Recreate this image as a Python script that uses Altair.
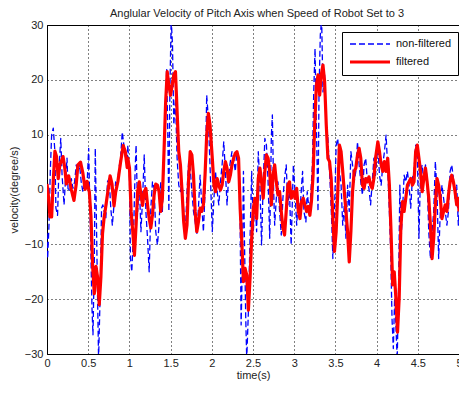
import altair as alt
import pandas as pd

# ---- data ----
title_text = "Anglular Velocity of Pitch Axis when Speed of Robot Set to 3"

t_filtered = [
    0.000, 0.016, 0.036, 0.056, 0.076, 0.096, 0.116, 0.136, 0.156, 0.195,
    0.215, 0.235, 0.263, 0.295, 0.327, 0.355, 0.375, 0.407, 0.435, 0.463,
    0.486, 0.514, 0.534, 0.554, 0.574, 0.594, 0.614, 0.634, 0.654, 0.674,
    0.694, 0.714, 0.742, 0.766, 0.789, 0.813, 0.833, 0.861, 0.893, 0.925,
    0.949, 0.973,
    0.981, 1.001, 1.021, 1.041, 1.061, 1.081, 1.100, 1.120, 1.140, 1.160,
    1.180, 1.200, 1.220, 1.240, 1.260, 1.280, 1.300, 1.320, 1.340, 1.360,
    1.380, 1.400, 1.420, 1.440, 1.459, 1.479, 1.499, 1.519, 1.539, 1.559,
    1.579, 1.599, 1.619, 1.639, 1.659, 1.679, 1.699, 1.719, 1.738, 1.758,
    1.778, 1.798, 1.818, 1.838, 1.858, 1.878, 1.898, 1.918, 1.938, 1.958,
    1.978,
    2.006, 2.026, 2.045, 2.065, 2.085, 2.105, 2.125, 2.145, 2.165, 2.185,
    2.205, 2.225, 2.245, 2.265, 2.285, 2.305, 2.325, 2.344, 2.364, 2.384,
    2.404, 2.424, 2.444, 2.464, 2.484, 2.504, 2.524, 2.544, 2.564, 2.584,
    2.604, 2.624, 2.644, 2.663, 2.683, 2.703, 2.723, 2.743, 2.763, 2.783,
    2.803, 2.823, 2.843, 2.863, 2.883, 2.903, 2.923, 2.943, 2.963,
    2.990, 3.010, 3.030, 3.050, 3.070, 3.090, 3.110, 3.130, 3.150, 3.170,
    3.190, 3.209, 3.229, 3.249, 3.269, 3.289, 3.309, 3.329, 3.349, 3.369,
    3.389, 3.409, 3.429, 3.449, 3.469, 3.489, 3.509, 3.529, 3.549, 3.569,
    3.589, 3.608, 3.628, 3.648, 3.668, 3.688, 3.708, 3.728, 3.748, 3.768,
    3.788, 3.808, 3.828, 3.848, 3.868, 3.888, 3.907, 3.927, 3.947, 3.967,
    3.987,
    4.015, 4.035, 4.055, 4.075, 4.095, 4.115, 4.135, 4.155, 4.175, 4.195,
    4.214, 4.234, 4.254, 4.274, 4.294, 4.314, 4.334, 4.354, 4.374, 4.394,
    4.414, 4.434, 4.454, 4.474, 4.494, 4.514, 4.533, 4.553, 4.573, 4.593,
    4.613, 4.633, 4.653, 4.673, 4.693, 4.713, 4.733, 4.753, 4.773, 4.793,
    4.813, 4.833, 4.853, 4.872, 4.892, 4.912, 4.932, 4.952, 4.972, 4.992,
    5.000,
]
v_filtered = [
    1, -1, -5, -5, 1.5, 7, 6, 2, 4.5, 6,
    4, 1, 2.5, 0, -2, 1, 4.5, 5, 3, 0,
    1.5, -0.5, -5, -14, -19, -14, -16, -21, -16, -8,
    -5, -3, 0, 2.5, 1, -3, -0.5, 1.5, 5, 8,
    7, 4,
    5.7, 3.9, -4, -7.7, -12, -6.5, -0.4, 1.4, -1, -2.9,
    -0.4, 0.2, -2.8, -5.3, -7, -4.6, -1, 1, 0.8, -0.4,
    -4, -1.6, 6.9, 16, 21.5, 19, 17.2, 19, 20.9, 21.5,
    14.2, 6.9, 4.5, -0.4, -5.9, -8.9, -6.5, 2, 6.9, 6.3,
    2.6, -4, -7.7, -5.9, -3.4, -4, -2.8, 2.6, 9.9, 13.9,
    11.8,
    5.7, 0.8, -0.4, 2, 0.8, -0.1, 0.8, 3.3, 5.1, 3.9,
    1.4, 2.6, 4.5, 5.7, 6.6, 6.9, 5.7, -3.4, -9.5, -16.8,
    -14.4, -15.6, -22, -16.2, -8.9, -3.4, -1.6, -5.3, 2, 3.9,
    1.4, -1.6, 3.3, 6.3, 5.7, 3.3, -2.8, 2.6, 4.5, 1.4,
    -1, -0.4, -4, -7, -8.3, -4, 0.8, 1.4, -1.6,
    -0.4, -1.6, 0.2, -4, -5.3, -2.2, -1.6, -2.8, -4, -3.1,
    -4.7, -2.2, 2.6, 11.8, 19, 20.9, 17.2, 20.9, 22.7, 19.7,
    11.8, 5.7, 5.1, 2, -5.3, -11.3, -7.7, -0.4, 8.1, 6.9,
    3.3, -0.4, -4, -7.7, -13.2, -7.7, -0.4, 3.3, 3.9, 6.3,
    7.5, 5.7, 0.8, 0.2, 2, 1.4, 2.3, 0.8, 0.2, 2,
    5.7,
    8.7, 6.9, 4.5, 3.3, 5.1, 3.3, 5.7, 0.8, -7.7, -17.4,
    -15, -19.8, -26, -19.8, -7.1, -2.2, -4, -1.6, 0.8, 1.4,
    2, 0.8, 1.4, 6.9, 8.1, 5.7, 3.3, -0.4, 2, 3.9,
    1.4, -1.6, -6.5, -12.6, -8.9, -2.8, 2, 0.8, -1.6, -5.3,
    -4, -2.8, -4, -1, 1.4, 2.6, 1.4, -0.4, -2.8, -1.6,
    -4,
]

t_raw = [
    0.000, 0.008, 0.024, 0.040, 0.056, 0.076, 0.096, 0.108, 0.128, 0.144,
    0.167, 0.183, 0.207, 0.223, 0.243, 0.255, 0.275, 0.295, 0.315, 0.335,
    0.355, 0.375, 0.395, 0.415, 0.435, 0.463, 0.486, 0.506, 0.518, 0.534,
    0.546, 0.558, 0.574, 0.586, 0.598, 0.614, 0.626, 0.646, 0.662, 0.678,
    0.694, 0.714, 0.734, 0.754, 0.774, 0.793, 0.813, 0.833, 0.853, 0.873,
    0.893, 0.913, 0.933, 0.953, 0.973,
    0.981, 1.001, 1.013, 1.029, 1.053, 1.069, 1.081, 1.100, 1.120, 1.140,
    1.160, 1.180, 1.200, 1.220, 1.240, 1.260, 1.280, 1.300, 1.320, 1.340,
    1.360, 1.380, 1.400, 1.420, 1.440, 1.452, 1.467, 1.479, 1.491, 1.507,
    1.523, 1.539, 1.559, 1.579, 1.599, 1.619, 1.639, 1.659, 1.679, 1.699,
    1.719, 1.738, 1.758, 1.778, 1.798, 1.818, 1.838, 1.858, 1.878, 1.898,
    1.918, 1.938, 1.958, 1.978,
    2.006, 2.026, 2.045, 2.065, 2.085, 2.105, 2.125, 2.145, 2.165, 2.185,
    2.205, 2.225, 2.245, 2.265, 2.285, 2.305, 2.325, 2.344, 2.356, 2.372,
    2.384, 2.396, 2.412, 2.424, 2.444, 2.464, 2.484, 2.504, 2.524, 2.544,
    2.564, 2.584, 2.604, 2.624, 2.644, 2.663, 2.683, 2.703, 2.723, 2.735,
    2.751, 2.763, 2.783, 2.803, 2.823, 2.843, 2.863, 2.883, 2.903, 2.923,
    2.943, 2.963,
    2.990, 3.010, 3.030, 3.050, 3.070, 3.090, 3.102, 3.118, 3.142, 3.158,
    3.182, 3.198, 3.221, 3.237, 3.253, 3.269, 3.289, 3.301, 3.317, 3.333,
    3.349, 3.369, 3.389, 3.409, 3.421, 3.437, 3.457, 3.469, 3.489, 3.509,
    3.529, 3.549, 3.569, 3.589, 3.608, 3.628, 3.648, 3.668, 3.688, 3.708,
    3.728, 3.748, 3.768, 3.788, 3.808, 3.828, 3.848, 3.868, 3.888, 3.907,
    3.927, 3.947, 3.967, 3.987,
    4.015, 4.035, 4.055, 4.075, 4.095, 4.115, 4.135, 4.155, 4.171, 4.187,
    4.203, 4.219, 4.234, 4.250, 4.266, 4.282, 4.298, 4.314, 4.334, 4.354,
    4.374, 4.394, 4.414, 4.434, 4.454, 4.474, 4.494, 4.514, 4.533, 4.553,
    4.573, 4.593, 4.613, 4.633, 4.653, 4.673, 4.693, 4.713, 4.733, 4.753,
    4.773, 4.793, 4.813, 4.833, 4.853, 4.872, 4.892, 4.912, 4.932, 4.952,
    4.972, 4.992, 5.000,
]
v_raw = [
    -8, -12.6, -6.5, 3.3, 9.9, 11.2, 6.9, -3.4, -4.7, 3.3,
    9.3, 2.6, -2.8, 1.4, 5.7, 0.2, -0.4, 2, 0.2, 1.4,
    4.5, 3.3, 4.5, 1.4, -0.4, 1.4, 0.8, 7.5, -1.6, -12.6,
    -21.7, -26.5, -13.2, 7.5, -4, -19.8, -31, -18.6, -3.4, -2.8,
    -4, -5.3, 1.4, 2, -3.4, -6.5, -2.8, 1.4, 0.8, 3.9,
    5.7, 10.5, 8.1, 5.7, 4.5,
    8.1, 2, -12.6, -15, -6.5, 3.3, 8.1, -4, 1.4, -7.7,
    -1.6, 6.3, -4, -8.9, -15, -3.4, 1.4, 0.2, -7.7, -10.1,
    -6.5, 1.4, -4, 5.7, 14.8, 22.1, 9.3, -4, 17.8, 31,
    26.4, 11.8, 16.6, 5.7, 0.8, -0.4, 1.4, -4, -7.7, -0.4,
    5.1, 3.9, -0.4, -4, -5.9, -8.3, -3.4, 2.6, -2.8, -7.7,
    -0.4, 17.2, 13, 4.5,
    -7.7, -1.6, 3.3, -0.4, -2.8, 1.4, 4.5, 8.7, 3.3, -2.8,
    2.6, 5.1, 6.9, 5.7, 3.3, 6.9, 5.7, -6.5, -24.7, -12.6,
    3.3, -8.9, -23.5, -31, -22.3, -8.9, 3.3, -7.7, -1.6, -7.7,
    6.9, 0.8, -10.1, 1.4, 9.3, 8.1, 1.4, -8.9, 9.9, 13.6,
    -0.4, -6.5, -1.6, 1.4, -4, -8.3, -1.6, 2, 4.5, -2.8,
    -0.4, -10.1,
    4.5, -0.4, -6.5, -1.6, -4, 0.8, 3.3, -4, -5.9, -0.4,
    -4, -1.6, 4.5, 17.8, 25.7, 11.8, -4, 17.8, 28.2, 31,
    17.8, 20.9, 11.8, 9.3, 5.7, 0.8, -6.5, -12.6, -4, 8.1,
    9.3, 3.3, 0.8, -6.5, -2.8, -8.9, 0.8, -4, 6.9, 4.5,
    1.4, 3.3, 8.7, 4.5, 1.4, -1, 4.5, 5.7, 1.4, 0.2,
    -2.8, 1.4, 5.7, 2.6,
    8.1, 2.6, 0.8, 4.5, 6.9, 9.9, 3.9, -4, -11.3, -23.5,
    -29, -19.8, -24.7, -31, -18.6, 0.8, -8.9, -4, 2.6, 1.4,
    3.3, 0.8, -3.4, 2, 3.3, 8.1, 6.9, -8.9, 3.3, 4.5,
    1.4, 4.5, 2, -7.7, -12.6, -7.7, -4, 5.1, -0.4, -12.6,
    -4, 0.8, -1.6, -4, -6.5, -4, 3.3, 4.5, 2, -1.6,
    0.8, -6.5, -4,
]

series_names = ["non-filtered", "filtered"]
series_colors = ["#0000ff", "#ff0000"]
x_ticks = [0, 0.5, 1, 1.5, 2, 2.5, 3, 3.5, 4, 4.5, 5]
y_ticks = [-30, -20, -10, 0, 10, 20, 30]

df = pd.concat([
    pd.DataFrame({"t": t_raw, "v": v_raw, "series": "non-filtered", "k": 0}),
    pd.DataFrame({"t": t_filtered, "v": v_filtered, "series": "filtered", "k": 1}),
], ignore_index=True)

FONT = "Liberation Sans"
W, H = 412, 329

base = alt.Chart(df).mark_line(clip=True, strokeJoin="round").encode(
    x=alt.X("t:Q", title="time(s)",
            scale=alt.Scale(domain=[0, 5], nice=False, zero=False),
            axis=alt.Axis(values=x_ticks, format="~g", labelFlush=False,
                          labelOverlap=False, labelBound=False,
                          titlePadding=1, labelPadding=3)),
    y=alt.Y("v:Q", title="velocity(degree/s)",
            scale=alt.Scale(domain=[-30, 30], nice=False),
            axis=alt.Axis(values=y_ticks, labelPadding=4, titlePadding=5)),
    color=alt.Color("series:N",
                    scale=alt.Scale(domain=series_names, range=series_colors),
                    legend=alt.Legend(title=None)),
    strokeDash=alt.StrokeDash("series:N",
                              scale=alt.Scale(domain=series_names, range=[[6, 3], [1, 0]]),
                              legend=alt.Legend(title=None)),
    strokeWidth=alt.StrokeWidth("series:N",
                                scale=alt.Scale(domain=series_names, range=[1.3, 3.2]),
                                legend=alt.Legend(title=None)),
    detail="k:N",
)

raw_layer = base.transform_filter(alt.datum.series == "non-filtered")
filt_layer = base.transform_filter(alt.datum.series == "filtered")

title_layer = alt.Chart(pd.DataFrame({"title": [title_text]})).mark_text(
    font=FONT, fontSize=11, color="#222", align="center", baseline="alphabetic",
    clip=False,
).encode(
    text="title:N",
    x=alt.value(W / 2 + 4),
    y=alt.value(-8),
)

chart = alt.layer(raw_layer, filt_layer, title_layer).properties(
    width=W,
    height=H,
    autosize=alt.AutoSizeParams(type="none"),
    padding={"left": 39, "top": 17, "right": 0, "bottom": 27},
).configure_view(
    stroke="#000", strokeWidth=1,
).configure_axis(
    labelFont=FONT, labelFontSize=11, labelColor="#222",
    titleFont=FONT, titleFontSize=11, titleColor="#222", titleFontWeight="normal",
    grid=True, gridColor="#000", gridDash=[1, 3], gridOpacity=1, gridWidth=1,
    ticks=False, domain=False,
).configure_legend(
    orient="none", legendX=295, legendY=7,
    strokeColor="#000", fillColor="#fff", padding=6, cornerRadius=0,
    symbolType="M-4,0H4", symbolSize=100, symbolOffset=15,
    labelFont=FONT, labelFontSize=11, labelColor="#111", rowPadding=6,
    labelOffset=19,
)

chart.save("out.html", embed_options={"renderer": "svg", "actions": False})
